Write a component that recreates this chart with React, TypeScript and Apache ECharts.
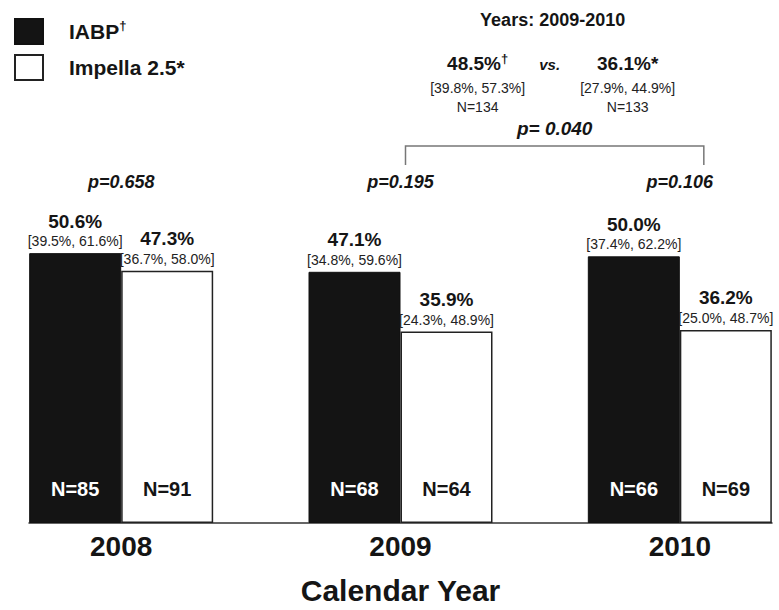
import React, { useEffect, useRef } from "react";
import * as echarts from "echarts";

// Per-year outcome rates (%) with 95% confidence intervals and group sizes
const years = [2008, 2009, 2010];
const iabpRate = [50.6, 47.1, 50.0];
const impellaRate = [47.3, 35.9, 36.2];
const iabpCI = ["[39.5%, 61.6%]", "[34.8%, 59.6%]", "[37.4%, 62.2%]"];
const impellaCI = ["[36.7%, 58.0%]", "[24.3%, 48.9%]", "[25.0%, 48.7%]"];
const iabpN = [85, 68, 66];
const impellaN = [91, 64, 69];
const yearPValues = ["p=0.658", "p=0.195", "p=0.106"];

// Pooled 2009-2010 comparison
const pooledTitle = "Years: 2009-2010";
const pooledRate = [48.5, 36.1];
const pooledMark = ["†", "*"];
const pooledCI = ["[39.8%, 57.3%]", "[27.9%, 44.9%]"];
const pooledN = [134, 133];
const pooledP = "p= 0.040";

const seriesNames = ["IABP", "Impella 2.5"];

const FONT = "'Liberation Sans', Arial, Helvetica, sans-serif";
const INK = "#151515";
const W = 779;
const H = 610;

export default function App() {
  const ref = useRef<HTMLDivElement>(null);

  useEffect(() => {
    if (!ref.current) return;
    const chart = echarts.init(ref.current, null, { renderer: "svg" });
    const half = 0.33; // half width of a bar pair, in years

    const topLabel = (rates: number[], cis: string[]) => ({
      show: true,
      position: "top",
      distance: 3,
      formatter: (p: any) => `{v|${rates[p.dataIndex].toFixed(1)}%}\n{ci|${cis[p.dataIndex]}}`,
      rich: {
        v: { fontSize: 19, fontWeight: "bold", lineHeight: 22, color: INK, fontFamily: FONT },
        ci: { fontSize: 14, lineHeight: 18, color: "#222", fontFamily: FONT },
      },
    });

    const nSeries = (ns: number[], dx: number, color: string) => ({
      type: "scatter",
      silent: true,
      symbolSize: 1,
      itemStyle: { color: "transparent", opacity: 1 },
      data: years.map((y) => [y, 0]),
      label: {
        show: true,
        position: "top",
        distance: 24,
        offset: [dx, 0],
        formatter: (p: any) => `N=${ns[p.dataIndex]}`,
        fontSize: 20,
        fontWeight: "bold",
        color,
        opacity: 1,
        textBorderWidth: 0,
        fontFamily: FONT,
      },
      z: 5,
    });

    chart.setOption({
      animation: false,
      backgroundColor: "#ffffff",
      textStyle: { fontFamily: FONT, color: INK },
      grid: { left: 29, right: 7, top: 203, bottom: 77 },
      legend: {
        data: seriesNames,
        orient: "vertical",
        left: 9,
        top: 13,
        itemWidth: 28,
        itemHeight: 25,
        itemGap: 9,
        icon: "rect",
        selectedMode: false,
        formatter: (name: string) =>
          name === "IABP" ? "{pad|}{n|IABP}{sup|†}" : "{pad|}{n|Impella 2.5*}",
        textStyle: {
          rich: {
            pad: { width: 21 },
            n: { fontSize: 21, fontWeight: "bold", color: INK, fontFamily: FONT, lineHeight: 25 },
            sup: { fontSize: 13, fontWeight: "bold", color: INK, fontFamily: FONT, verticalAlign: "top", lineHeight: 14 },
          },
        },
      },
      xAxis: {
        type: "value",
        min: years[0] - half,
        max: years[years.length - 1] + half,
        axisLine: { show: true, onZero: true, lineStyle: { color: "#333", width: 1.5 } },
        axisTick: { show: false },
        splitLine: { show: false },
        axisLabel: {
          customValues: years,
          formatter: (v: number) => String(v),
          fontSize: 28,
          fontWeight: "bold",
          color: INK,
          margin: 9,
          fontFamily: FONT,
        },
        name: "Calendar Year",
        nameLocation: "middle",
        nameGap: 52,
        nameTextStyle: { fontSize: 30, fontWeight: "bold", color: INK, fontFamily: FONT },
      },
      yAxis: { type: "value", min: 0, max: 60, show: false },
      series: [
        {
          name: seriesNames[0],
          type: "bar",
          barWidth: 92,
          barGap: "0%",
          data: years.map((y, i) => [y, iabpRate[i]]),
          itemStyle: { color: "#141414", borderColor: "#111", borderWidth: 1 },
          label: topLabel(iabpRate, iabpCI),
        },
        {
          name: seriesNames[1],
          type: "bar",
          barWidth: 92,
          barGap: "0%",
          data: years.map((y, i) => [y, impellaRate[i]]),
          itemStyle: { color: "#ffffff", borderColor: "#222", borderWidth: 1.5 },
          label: topLabel(impellaRate, impellaCI),
        },
        nSeries(iabpN, -46, "#ffffff"),
        nSeries(impellaN, 46, INK),
      ],
    });

    // Annotations anchored to the year positions on the x axis
    const px = years.map((y) => chart.convertToPixel({ xAxisIndex: 0 }, y) as number);
    const pY = 182;
    const bl = px[1] + 5;
    const br = px[2] + 24;
    const mid = (bl + br) / 2;
    const boldItalic = { fontSize: 18, fontWeight: "bold", fontStyle: "italic", fill: INK, fontFamily: FONT };

    const graphic: any[] = [
      ...yearPValues.map((t, i) => ({
        type: "text",
        x: px[i],
        y: pY,
        style: { text: t, align: "center", verticalAlign: "middle", ...boldItalic },
      })),
      {
        type: "polyline",
        shape: { points: [[bl, 165], [bl, 146], [br, 146], [br, 165]] },
        style: { stroke: "#777", lineWidth: 1.5, fill: "none" },
      },
      {
        type: "text",
        x: mid,
        y: 128,
        style: { text: pooledP, align: "center", verticalAlign: "middle", ...boldItalic, fontSize: 19 },
      },
      {
        type: "text",
        x: mid - 2,
        y: 20,
        style: { text: pooledTitle, align: "center", verticalAlign: "middle", fontSize: 18, fontWeight: "bold", fill: INK, fontFamily: FONT },
      },
      {
        type: "text",
        x: mid - 5,
        y: 64,
        style: { text: "vs.", align: "center", verticalAlign: "middle", fontSize: 15, fontWeight: "bold", fontStyle: "italic", fill: INK, fontFamily: FONT },
      },
    ];

    const colX = [mid - 77, mid + 73];
    pooledRate.forEach((r, i) => {
      graphic.push(
        {
          type: "text",
          x: colX[i],
          y: 63,
          style: {
            text: `{v|${r.toFixed(1)}%}{s|${pooledMark[i]}}`,
            align: "center",
            verticalAlign: "middle",
            rich: {
              v: { fontSize: 19, fontWeight: "bold", fill: INK, fontFamily: FONT, lineHeight: 22 },
              s: {
                fontSize: i === 0 ? 13 : 19,
                fontWeight: "bold",
                fill: INK,
                fontFamily: FONT,
                verticalAlign: i === 0 ? "top" : "middle",
                lineHeight: i === 0 ? 12 : 22,
              },
            },
          },
        },
        {
          type: "text",
          x: colX[i],
          y: 88,
          style: { text: pooledCI[i], align: "center", verticalAlign: "middle", fontSize: 14, fill: "#222", fontFamily: FONT },
        },
        {
          type: "text",
          x: colX[i],
          y: 107,
          style: { text: `N=${pooledN[i]}`, align: "center", verticalAlign: "middle", fontSize: 14, fill: "#222", fontFamily: FONT },
        }
      );
    });

    chart.setOption({ graphic });

    return () => chart.dispose();
  }, []);

  return (
    <div
      ref={ref}
      style={{ position: "fixed", left: 0, top: 0, width: W, height: H, background: "#fff" }}
    />
  );
}
